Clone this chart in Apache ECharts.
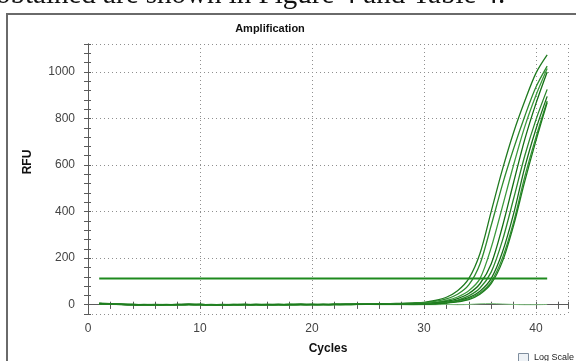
<!DOCTYPE html>
<html>
<head>
<meta charset="utf-8">
<script src="https://cdn.jsdelivr.net/npm/echarts@6/dist/echarts.min.js"></script>
<style>
  html, body { margin: 0; padding: 0; background: #fff; }
  #chart { width: 576px; height: 361px; }
</style>
</head>
<body>
<div id="chart"></div>
<script>
// cycles 1..41
const cycles = [1,2,3,4,5,6,7,8,9,10,11,12,13,14,15,16,17,18,19,20,21,22,23,24,25,26,27,28,29,30,31,32,33,34,35,36,37,38,39,40,41]

// RFU, one array per well
const wellA = [6,3,2,1,0,-1,0,1,2,1,0,-1,0,1,0,-1,0,1,2,1,0,1,2,3,3,4,5,6,8,10,18,32,60,112,220,400,580,740,875,995,1073]
const wellB = [4,2,1,0,1,0,-1,0,1,1,0,0,-1,0,1,0,0,1,1,0,1,2,2,2,3,3,4,5,6,8,14,25,45,85,175,340,515,670,810,935,1025]
const wellC = [5,3,1,0,-1,0,1,0,0,-1,1,0,1,0,-1,0,1,2,1,0,0,1,1,2,2,3,3,4,5,6,10,18,33,60,112,245,420,600,765,900,1015]
const wellD = [3,2,0,-1,0,1,0,-1,0,1,0,1,0,-1,0,1,1,0,0,1,1,0,1,1,2,2,3,3,4,5,8,14,26,48,90,175,335,525,710,865,1000]
const wellE = [7,4,2,1,0,0,-1,0,1,0,-1,0,1,1,0,0,-1,0,1,1,0,1,1,1,2,2,2,3,3,4,6,11,20,38,72,140,275,455,640,795,925]
const wellF = [5,2,1,0,-1,-1,0,1,1,0,0,-1,0,0,1,0,0,0,1,0,0,1,1,1,1,2,2,2,3,3,5,9,16,30,58,112,225,390,590,755,895]
const wellG = [4,3,1,1,0,-1,-1,0,0,1,0,0,-1,0,1,1,0,-1,0,1,1,0,0,1,1,1,2,2,2,3,4,8,14,26,50,98,200,355,550,720,875]
const wellH = [6,3,2,0,0,-1,0,0,1,0,-1,-1,0,1,0,0,1,0,0,0,1,1,0,1,1,1,1,2,2,2,4,7,12,22,45,90,185,340,530,705,868]
const negControl = [2,1,0,0,-1,0,0,1,0,0,-1,0,0,1,0,0,0,-1,0,0,1,0,0,0,1,0,0,0,-1,0,0,1,0,1,4,5,3,1,0,0,1]

const threshold = 112
const thresholdCycles = [1, 41]

const yTicks = [0, 200, 400, 600, 800, 1000]
const xTicks = [0, 10, 20, 30, 40]

const wells = [wellA, wellB, wellC, wellD, wellE, wellF, wellG, wellH]
const wellColors = ["#1f7a1f", "#2e8b2e", "#3d9a3d", "#147014", "#2a872a", "#1a6e1a", "#379337", "#1c7c1c"]

const chart = echarts.init(document.getElementById("chart"), null, { renderer: "canvas" })

const font = "Liberation Sans, Arial, sans-serif"
const xMin = 0, xMax = 42.86
const yMin = -40, yMax = 1120

const frameLine = { show: true, lineStyle: { color: "#5a5a5a", width: 1 } }
const dotted = { show: true, lineStyle: { color: "#8f8f8f", type: [1, 3], width: 1 } }

const series = wells.map((w, i) => ({
  type: "line",
  data: cycles.map((c, j) => [c, w[j]]),
  showSymbol: false,
  smooth: 0.3,
  clip: true,
  lineStyle: { color: wellColors[i], width: 1.3 },
  z: 3,
}))

series.push({
  type: "line",
  data: cycles.map((c, j) => [c, negControl[j]]),
  showSymbol: false,
  smooth: 0.3,
  lineStyle: { color: "#7fbf7f", width: 1 },
  z: 2,
})

series.push({
  type: "line",
  data: thresholdCycles.map((c) => [c, threshold]),
  showSymbol: false,
  lineStyle: { color: "#1e8a1e", width: 2 },
  z: 4,
})

const option = {
  animation: false,
  backgroundColor: "#ffffff",
  grid: { left: 88, top: 44, width: 480, height: 270, containLabel: false },
  xAxis: [
    {
      type: "value", position: "bottom", min: xMin, max: xMax, interval: 2,
      axisLine: frameLine,
      axisTick: { show: true, inside: false, length: 4, lineStyle: { color: "#5a5a5a" } },
      axisLabel: {
        color: "#444", fontFamily: font, fontSize: 12, margin: 9,
        showMaxLabel: false,
        formatter: (v) => (xTicks.includes(v) ? String(v) : ""),
      },
      splitLine: { show: false },
    },
    {
      type: "value", position: "bottom", min: xMin, max: xMax, interval: 2,
      axisLine: { show: false },
      axisTick: { show: true, inside: true, length: 3, lineStyle: { color: "#5a5a5a" } },
      axisLabel: { show: false },
      splitLine: { show: false },
    },
    {
      type: "value", position: "top", min: xMin, max: xMax, interval: 2,
      axisLine: frameLine,
      axisTick: { show: true, inside: true, length: 4, lineStyle: { color: "#5a5a5a" } },
      axisLabel: { show: false },
      splitLine: { show: false },
    },
    {
      type: "value", position: "bottom", min: xMin, max: xMax, interval: 10,
      axisLine: { show: false },
      axisTick: { show: false },
      axisLabel: { show: false },
      splitLine: dotted,
    },
  ],
  yAxis: [
    {
      type: "value", position: "left", min: yMin, max: yMax, interval: 40,
      axisLine: frameLine,
      axisTick: { show: true, inside: false, length: 4, lineStyle: { color: "#5a5a5a" } },
      axisLabel: {
        color: "#444", fontFamily: font, fontSize: 12, margin: 13,
        showMinLabel: false, showMaxLabel: false,
        formatter: (v) => (yTicks.includes(v) ? String(v) : ""),
      },
      splitLine: { show: false },
    },
    {
      type: "value", position: "left", min: yMin, max: yMax, interval: 40,
      axisLine: { show: false },
      axisTick: { show: true, inside: true, length: 3, lineStyle: { color: "#5a5a5a" } },
      axisLabel: { show: false },
      splitLine: { show: false },
    },
    {
      type: "value", position: "right", min: yMin, max: yMax, interval: 40,
      axisLine: frameLine,
      axisTick: { show: true, inside: true, length: 4, lineStyle: { color: "#5a5a5a" } },
      axisLabel: { show: false },
      splitLine: { show: false },
    },
    {
      type: "value", position: "left", min: yMin, max: yMax, splitNumber: 5,
      axisLine: { show: false },
      axisTick: { show: false },
      axisLabel: { show: false },
      splitLine: dotted,
    },
  ],
  series: series,
  graphic: [
    {
      type: "text", left: -4, top: -19,
      style: { text: "obtained are shown in Figure 4 and Table 4.", font: "29px Liberation Serif, serif", fill: "#111" },
    },
    {
      type: "rect", shape: { x: 7, y: 14, width: 620, height: 400 },
      style: { fill: "none", stroke: "#6a6a6a", lineWidth: 2 },
      silent: true,
    },
    {
      type: "text", x: 270, y: 29,
      style: { text: "Amplification", font: "bold 11px " + font, fill: "#111", align: "center", verticalAlign: "middle" },
    },
    {
      type: "text", x: 28, y: 162, rotation: Math.PI / 2,
      style: { text: "RFU", font: "bold 12px " + font, fill: "#111", align: "center", verticalAlign: "middle" },
    },
    {
      type: "text", x: 328, y: 349,
      style: { text: "Cycles", font: "bold 12px " + font, fill: "#111", align: "center", verticalAlign: "middle" },
    },
    {
      type: "rect", shape: { x: 518.5, y: 353.5, width: 10, height: 10 },
      style: { fill: "#eef2f6", stroke: "#7f8e9e", lineWidth: 1 },
    },
    {
      type: "text", x: 534, y: 358,
      style: { text: "Log Scale", font: "9px " + font, fill: "#222", verticalAlign: "middle" },
    },
  ],
}

chart.setOption(option)
</script>
</body>
</html>
